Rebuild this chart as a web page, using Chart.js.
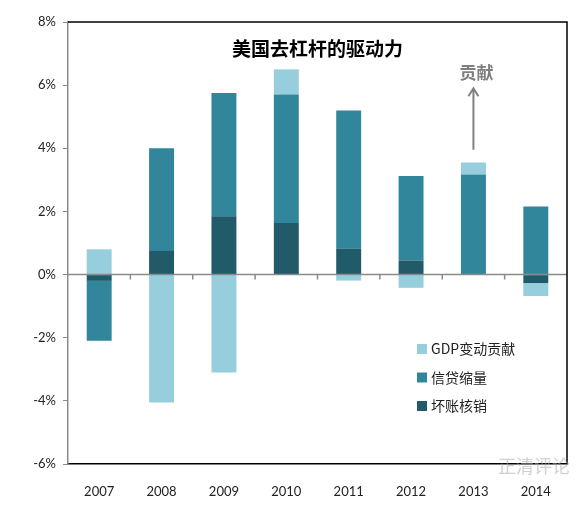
<!DOCTYPE html>
<html>
<head>
<meta charset="utf-8">
<script src="https://cdn.jsdelivr.net/npm/chart.js@4.4.1/dist/chart.umd.min.js"></script>
<style>
  body { margin: 0; background: #fff; }
  canvas { display: block; }
</style>
</head>
<body>
<canvas id="deleverage_chart" width="588" height="505"></canvas>
<script>
// values in % of GDP
var years = ['2007', '2008', '2009', '2010', '2011', '2012', '2013', '2014'];
var writeOff = [-0.2, 0.75, 1.85, 1.63, 0.82, 0.45, 0, -0.27];        // 坏账核销
var creditShrink = [-1.9, 3.25, 3.9, 4.07, 4.38, 2.67, 3.17, 2.16];   // 信贷缩量
var gdpContribution = [0.8, -4.05, -3.1, 0.8, -0.19, -0.42, 0.38, -0.41]; // GDP变动贡献
var yMin = -6, yMax = 8, yStep = 2;

// "贡献" arrow over 2013
var arrowYear = '2013';
var arrowFrom = 3.95, arrowTo = 5.9, arrowLabelAt = 6.4;

var cjk = '"Noto Sans CJK SC", "Microsoft YaHei", sans-serif';
var latin = 'Lato, "Noto Sans CJK SC", sans-serif';

const extras = {
    id: 'extras',
    afterDatasetsDraw: function(chart) {
        const ctx = chart.ctx;
        const a = chart.chartArea;
        const x = chart.scales.x;
        const y = chart.scales.y;
        ctx.save();

        // zero line with category ticks
        const y0 = y.getPixelForValue(0);
        ctx.strokeStyle = '#8a8a8a';
        ctx.lineWidth = 1.5;
        ctx.beginPath();
        ctx.moveTo(a.left, y0);
        ctx.lineTo(a.right, y0);
        const half = (x.getPixelForValue(1) - x.getPixelForValue(0)) / 2;
        for (let i = 0; i < years.length - 1; i++) {
            const xp = x.getPixelForValue(i) + half;
            ctx.moveTo(xp, y0);
            ctx.lineTo(xp, y0 + 5);
        }
        ctx.stroke();

        // frame top / right
        ctx.strokeStyle = '#000';
        ctx.lineWidth = 1.5;
        ctx.beginPath();
        ctx.moveTo(a.left, a.top);
        ctx.lineTo(a.right, a.top);
        ctx.lineTo(a.right, a.bottom);
        ctx.stroke();

        // title
        ctx.fillStyle = '#000';
        ctx.font = 'bold 19px ' + cjk;
        ctx.textAlign = 'center';
        ctx.textBaseline = 'middle';
        ctx.fillText('美国去杠杆的驱动力', (a.left + a.right) / 2, a.top + 27);

        // arrow + label
        const ax = x.getPixelForValue(years.indexOf(arrowYear));
        const yb = y.getPixelForValue(arrowFrom);
        const yt = y.getPixelForValue(arrowTo);
        ctx.strokeStyle = '#808080';
        ctx.lineWidth = 2;
        ctx.beginPath();
        ctx.moveTo(ax, yb);
        ctx.lineTo(ax, yt);
        ctx.moveTo(ax - 5, yt + 8);
        ctx.lineTo(ax, yt);
        ctx.lineTo(ax + 5, yt + 8);
        ctx.stroke();
        ctx.fillStyle = '#7f7f7f';
        ctx.font = 'bold 17px ' + cjk;
        ctx.fillText('贡献', ax + 3, y.getPixelForValue(arrowLabelAt));

        // legend inside plot, reversed order
        ctx.font = '14px ' + cjk;
        ctx.textAlign = 'left';
        const ds = chart.data.datasets.slice().reverse();
        ds.forEach(function(d, i) {
            const ly = 349 + i * 28.5;
            ctx.fillStyle = d.backgroundColor;
            ctx.fillRect(417, ly - 5, 10, 10);
            ctx.fillStyle = '#222';
            ctx.fillText(d.label, 431, ly);
        });

        // watermark
        ctx.fillStyle = 'rgba(170,170,170,0.55)';
        ctx.font = '18px ' + cjk;
        ctx.textAlign = 'right';
        ctx.fillText('正清评论', 570, 466);
        ctx.restore();
    }
};

const dt = {
    labels: years,
    datasets: [
    {
        label: '坏账核销',
        data: writeOff,
        backgroundColor: 'rgb(33, 90, 104)'
    },
    {
        label: '信贷缩量',
        data: creditShrink,
        backgroundColor: 'rgb(49, 134, 156)'
    },
    {
        label: 'GDP变动贡献',
        data: gdpContribution,
        backgroundColor: 'rgb(150, 206, 221)'
    },
    ]
};

const config_deleverage = {
    type: 'bar',
    data: dt,
    options: {
        responsive: false,
        animation: false,
        layout: { padding: { top: 22, right: 21, left: 0, bottom: 0 } },
        datasets: { bar: { categoryPercentage: 1, barPercentage: 0.4 } },
        plugins: {
            legend: { display: false },
            tooltip: { enabled: false }
        },
        scales: {
            x: {
                stacked: true,
                grid: { display: false },
                border: { color: '#000', width: 1.5 },
                ticks: { color: '#222', padding: 12, font: { family: latin, size: 13 } },
                afterFit: function(s) { s.height = 41; }
            },
            y: {
                stacked: true,
                min: yMin,
                max: yMax,
                grid: { drawOnChartArea: false, drawTicks: true, tickLength: 5, color: '#8a8a8a' },
                border: { color: '#8a8a8a', width: 1.5 },
                ticks: {
                    stepSize: yStep,
                    color: '#222',
                    padding: 7,
                    font: { family: latin, size: 13 },
                    callback: function(v) { return v + '%'; }
                },
                afterFit: function(s) { s.width = 68; }
            }
        }
    },
    plugins: [extras]
};

const deleverage_chart = new Chart(
    document.getElementById('deleverage_chart'),
    config_deleverage
);
</script>
</body>
</html>
